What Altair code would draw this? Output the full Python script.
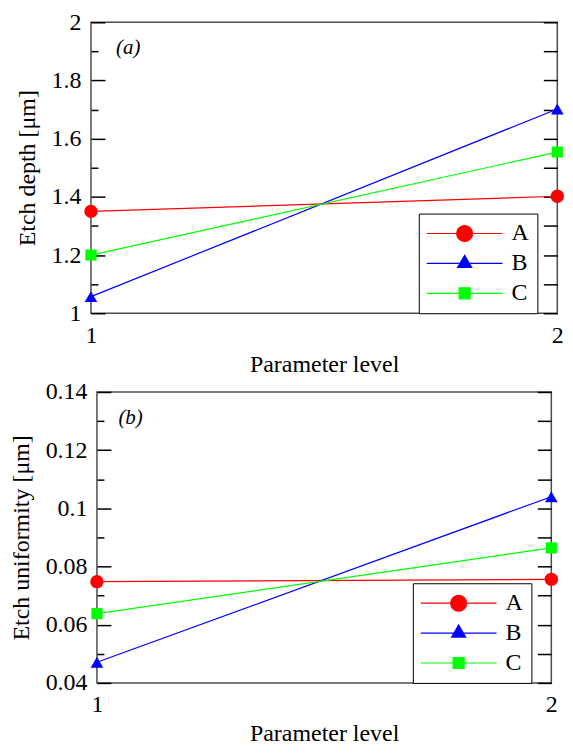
import altair as alt
import pandas as pd

levels = [1, 2]
series = ["A", "B", "C"]
depth_A = [1.350, 1.402]
depth_B = [1.057, 1.702]
depth_C = [1.200, 1.554]
unif_A = [0.0748, 0.0756]
unif_B = [0.0471, 0.1040]
unif_C = [0.0638, 0.0864]

depth_ticks = [1, 1.2, 1.4, 1.6, 1.8, 2]
depth_minor = [1.1, 1.3, 1.5, 1.7, 1.9]
unif_ticks = [0.04, 0.06, 0.08, 0.1, 0.12, 0.14]
unif_minor = [0.05, 0.07, 0.09, 0.11, 0.13]

# panel tag positions (data units)
tag_a = {"level": 1.080, "value": 1.91, "text": "(a)"}
tag_b = {"level": 1.074, "value": 0.131, "text": "(b)"}

colors = ["#ff0000", "#0000ff", "#00ff00"]
point_shapes = ["circle", "triangle-up", "square"]
point_sizes = [180, 160, 125]
legend_shapes = [
    "M-4,0H4M0.84,0A0.84,0.84,0,1,1,-0.84,0A0.84,0.84,0,1,1,0.84,0Z",
    "M-4,0H4M0,-0.85L0.74,0.42L-0.74,0.42Z",
    "M-4,0H4M-0.58,-0.58H0.58V0.58H-0.58Z",
]

FONT = "Liberation Serif"
PH = 292


def make_df(a, b, c):
    rows = []
    for name, vals in zip(series, [a, b, c]):
        for lv, v in zip(levels, vals):
            rows.append({"level": lv, "value": v, "series": name})
    return pd.DataFrame(rows)


def panel(df, domain, ticks, minor, ytitle, tag, width):
    base = alt.Chart(df)
    xscale = alt.Scale(domain=[1, 2], nice=False, zero=False)
    yscale = alt.Scale(domain=domain, nice=False, zero=False)
    xaxis = alt.Axis(values=levels, format="d", title="Parameter level",
                     ticks=False, domain=False, grid=False, labelFlush=False,
                     labelPadding=10, titlePadding=5)
    xenc = alt.X("level:Q", scale=xscale, axis=xaxis)
    ynone = alt.Y("value:Q", scale=yscale, axis=None)

    layers = []

    def tick_layer(orient, values, size):
        return base.mark_point(opacity=0).encode(
            x=xenc,
            y=alt.Y("value:Q", scale=yscale,
                    axis=alt.Axis(orient=orient, values=values, tickSize=size, offset=-size,
                                  labels=False, domain=False, grid=False, title=None,
                                  tickColor="black", tickWidth=1.5)))

    layers.append(tick_layer("left", ticks, 14))
    layers.append(tick_layer("left", minor, 7))
    layers.append(tick_layer("right", sorted(ticks + minor), 14))

    main_y = alt.Y("value:Q", scale=yscale,
                   axis=alt.Axis(orient="left", values=ticks, format="~g", title=ytitle,
                                 ticks=False, domain=False, grid=False, labelFlush=False,
                                 labelPadding=10, titlePadding=12))
    for i, (name, col) in enumerate(zip(series, colors)):
        sub = base.transform_filter(alt.datum.series == name)
        layers.append(sub.mark_line(strokeWidth=1.2, color=col).encode(
            x=xenc, y=main_y if i == 0 else ynone))
    for name, col, shp, sz in zip(series, colors, point_shapes, point_sizes):
        sub = base.transform_filter(alt.datum.series == name)
        layers.append(sub.mark_point(filled=True, opacity=1, color=col, shape=shp, size=sz).encode(
            x=xenc, y=ynone))

    leg = alt.Legend(title=None, orient="none", legendX=width - 139, legendY=PH - 100,
                     strokeColor="black", fillColor="white", padding=8,
                     labelFontSize=24, labelFont=FONT, symbolSize=361,
                     symbolOffset=26, labelOffset=35, rowPadding=6,
                     labelExpr="datum.label + '\u00a0'",
                     symbolStrokeWidth=1.2, cornerRadius=0)
    layers.append(base.transform_filter("datum.level > 5").mark_point(
        filled=True, opacity=1, strokeWidth=1.2).encode(
        x=xenc, y=ynone,
        color=alt.Color("series:N", scale=alt.Scale(domain=series, range=colors), legend=leg),
        stroke=alt.Stroke("series:N", scale=alt.Scale(domain=series, range=colors), legend=leg),
        shape=alt.Shape("series:N", scale=alt.Scale(domain=series, range=legend_shapes), legend=leg),
    ))

    layers.append(alt.Chart(pd.DataFrame([tag])).mark_text(
        font=FONT, fontSize=21, fontStyle="italic").encode(
        x=xenc, y=ynone, text="text:N"))

    return alt.layer(*layers).resolve_axis(y="independent").properties(width=width, height=PH)


top = panel(make_df(depth_A, depth_B, depth_C), [1, 2], depth_ticks, depth_minor,
            "Etch depth [μm]", tag_a, 468)
bottom = panel(make_df(unif_A, unif_B, unif_C), [0.04, 0.14], unif_ticks, unif_minor,
               "Etch uniformity [μm]", tag_b, 456)

chart = alt.vconcat(top, bottom, spacing=2, center=True).resolve_scale(
    color="independent", stroke="independent", shape="independent"
).resolve_legend(
    color="independent", stroke="independent", shape="independent"
).properties(
    padding={"left": 0, "top": 0, "right": 0, "bottom": 0}
).configure_view(stroke="#4d4d4d", strokeWidth=1.5).configure_axis(
    labelFont=FONT, titleFont=FONT, labelFontSize=24, titleFontSize=24,
    titleFontWeight="normal", labelColor="black", titleColor="black"
).configure_legend(labelColor="black")

chart.save("out.html", embed_options={"renderer": "svg", "actions": False})
